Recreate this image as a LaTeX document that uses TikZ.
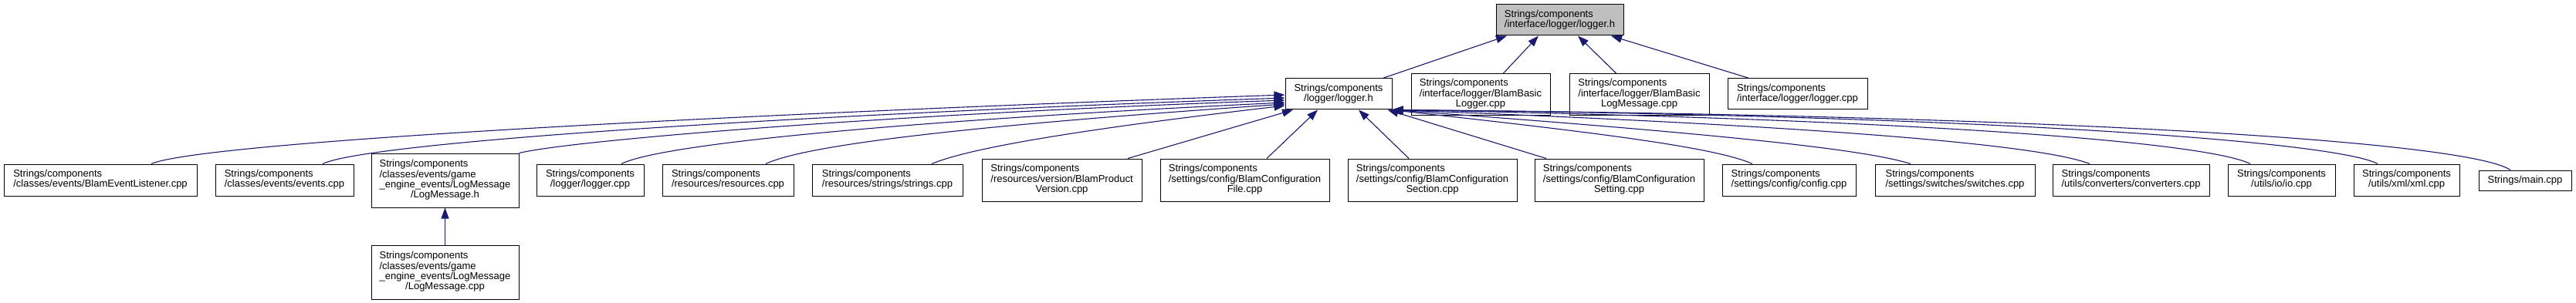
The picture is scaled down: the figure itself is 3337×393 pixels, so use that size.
\documentclass[tikz,border=0pt]{standalone}
\usepackage{fontspec}
\setmainfont{Liberation Sans}
\usetikzlibrary{arrows.meta}
\definecolor{edgecol}{HTML}{191970}
\definecolor{rootfill}{HTML}{BFBFBF}
\newcommand\lastline[1]{\multicolumn{1}{@{}c@{}}{#1}}
\newcommand\lbl[1]{\begin{tabular}{@{}l@{}}#1\end{tabular}}
\begin{document}
\begin{tikzpicture}[x=1pt,y=-1pt,
  box/.style={draw=black, line width=1pt, rectangle, inner sep=0pt, fill=white,
    font=\fontsize{13}{13.3}\selectfont},
  sz/.style 2 args={minimum width=#1pt, minimum height=#2pt},
  edge/.style={draw=edgecol, line width=1.1pt, -{Triangle[length=14pt,width=10pt]}},
]
\useasboundingbox[fill=white] (0,0) rectangle (3337,393);

% level 0
\node[box, sz={165}{40}, fill=rootfill] (root) at (2020.5,26)
  {\lbl{Strings/components\\\lastline{/interface/logger/logger.h}}};

% level 1
\node[box, sz={138}{40}] (lh) at (1734,122)
  {\lbl{Strings/components\\\lastline{/logger/logger.h}}};
\node[box, sz={180}{53}] (bbl) at (1918,122.5)
  {\lbl{Strings/components\\/interface/logger/BlamBasic\\\lastline{Logger.cpp}}};
\node[box, sz={181}{53}] (bblm) at (2123.5,122.5)
  {\lbl{Strings/components\\/interface/logger/BlamBasic\\\lastline{LogMessage.cpp}}};
\node[box, sz={181}{40}] (ilc) at (2328.5,122)
  {\lbl{Strings/components\\\lastline{/interface/logger/logger.cpp}}};

% level 2
\node[box, sz={250}{41}] (n1) at (130,233.5)
  {\lbl{Strings/components\\\lastline{/classes/events/BlamEventListener.cpp}}};
\node[box, sz={179}{41}] (n2) at (368.5,233.5)
  {\lbl{Strings/components\\\lastline{/classes/events/events.cpp}}};
\node[box, sz={191}{70}] (n3) at (576.5,234)
  {\lbl{Strings/components\\/classes/events/game\\\_engine\_events/LogMessage\\\lastline{/LogMessage.h}}};
\node[box, sz={139}{41}] (n4) at (764.5,233.5)
  {\lbl{Strings/components\\\lastline{/logger/logger.cpp}}};
\node[box, sz={170}{41}] (n5) at (943,233.5)
  {\lbl{Strings/components\\\lastline{/resources/resources.cpp}}};
\node[box, sz={195}{41}] (n6) at (1149.5,233.5)
  {\lbl{Strings/components\\\lastline{/resources/strings/strings.cpp}}};
\node[box, sz={207}{55}] (n7) at (1375.5,233.5)
  {\lbl{Strings/components\\/resources/version/BlamProduct\\\lastline{Version.cpp}}};
\node[box, sz={219}{55}] (n8) at (1612.5,233.5)
  {\lbl{Strings/components\\/settings/config/BlamConfiguration\\\lastline{File.cpp}}};
\node[box, sz={219}{55}] (n9) at (1855.5,233.5)
  {\lbl{Strings/components\\/settings/config/BlamConfiguration\\\lastline{Section.cpp}}};
\node[box, sz={219}{55}] (n10) at (2097.5,233.5)
  {\lbl{Strings/components\\/settings/config/BlamConfiguration\\\lastline{Setting.cpp}}};
\node[box, sz={173}{41}] (n11) at (2317.5,233.5)
  {\lbl{Strings/components\\\lastline{/settings/config/config.cpp}}};
\node[box, sz={207}{41}] (n12) at (2532.5,233.5)
  {\lbl{Strings/components\\\lastline{/settings/switches/switches.cpp}}};
\node[box, sz={203}{41}] (n13) at (2760.5,233.5)
  {\lbl{Strings/components\\\lastline{/utils/converters/converters.cpp}}};
\node[box, sz={139}{41}] (n14) at (2955.5,233.5)
  {\lbl{Strings/components\\\lastline{/utils/io/io.cpp}}};
\node[box, sz={137}{41}] (n15) at (3117.5,233.5)
  {\lbl{Strings/components\\\lastline{/utils/xml/xml.cpp}}};
\node[box, sz={120}{26}] (n16) at (3271,234)
  {Strings/main.cpp};

% level 3
\node[box, sz={191}{70}] (n17) at (576.5,353)
  {\lbl{Strings/components\\/classes/events/game\\\_engine\_events/LogMessage\\\lastline{/LogMessage.cpp}}};

% edges to root
\draw[edge] ([xshift=57pt]lh.north) -- ([xshift=-68.5pt]root.south);
\draw[edge] ([xshift=29pt]bbl.north) -- ([xshift=-27.5pt]root.south);
\draw[edge] ([xshift=-29.5pt]bblm.north) -- ([xshift=23.5pt]root.south);
\draw[edge] ([xshift=-62.5pt]ilc.north) -- ([xshift=66.5pt]root.south);

% edges to logger.h, left group
\draw[edge] ([xshift=66pt]n1.north) .. controls (260,185) and (900,150) .. ([yshift=-1pt]lh.west);
\draw[edge] ([xshift=49.5pt]n2.north) .. controls (475,185) and (1000,150) .. ([yshift=-5pt]lh.west);
\draw[edge] (n3.north east) .. controls (740,182) and (1150,148) .. ([yshift=-8pt]lh.west);
\draw[edge] ([xshift=40.5pt]n4.north) .. controls (860,185) and (1200,155) .. ([yshift=-11pt]lh.west);
\draw[edge] ([xshift=49pt]n5.north) .. controls (1050,185) and (1300,160) .. ([yshift=-13pt]lh.west);
\draw[edge] ([xshift=57.5pt]n6.north) .. controls (1265,188) and (1450,162) .. ([yshift=-15pt]lh.west);

% edges to logger.h, straight below
\draw[edge] ([xshift=85.5pt]n7.north) -- ([xshift=-59pt]lh.south);
\draw[edge] ([xshift=28.5pt]n8.north) -- ([xshift=-27pt]lh.south);
\draw[edge] ([xshift=-30.5pt]n9.north) -- ([xshift=26pt]lh.south);
\draw[edge] ([xshift=-94.5pt]n10.north) -- ([xshift=-6pt]lh.south east);

% edges to logger.h, right group
\draw[edge] ([xshift=-47.5pt]n11.north) .. controls (2220,190) and (2050,170) .. ([xshift=-2pt]lh.south east);
\draw[edge] ([xshift=-57.5pt]n12.north) .. controls (2420,195) and (2250,175) .. (lh.south east);
\draw[edge] ([xshift=-53.5pt]n13.north) .. controls (2650,190) and (2400,165) .. (lh.south east);
\draw[edge] ([xshift=-40.5pt]n14.north) .. controls (2860,185) and (2500,155) .. (lh.south east);
\draw[edge] ([xshift=-37.5pt]n15.north) .. controls (3030,185) and (2600,150) .. (lh.south east);
\draw[edge] ([xshift=-19pt]n16.north) .. controls (3200,185) and (2700,150) .. (lh.south east);

% edge to LogMessage.h
\draw[edge] (n17.north) -- (n3.south);
\end{tikzpicture}
\end{document}
